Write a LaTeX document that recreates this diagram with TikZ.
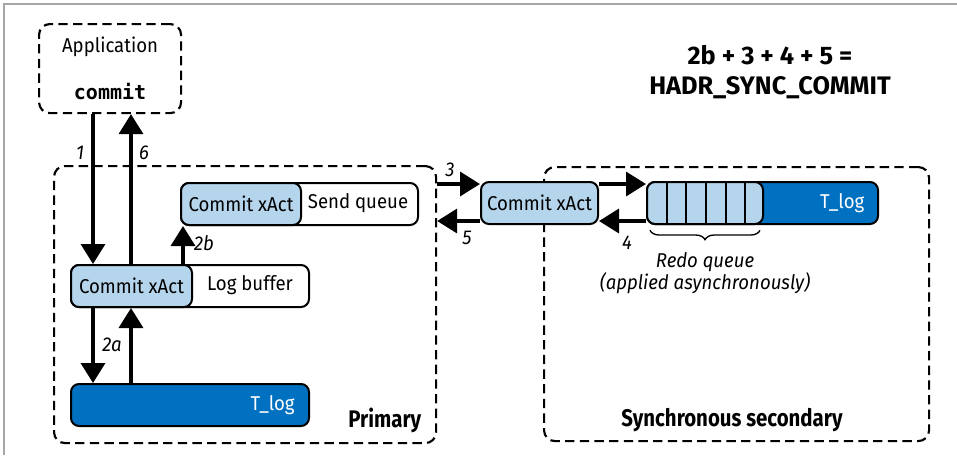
\documentclass[tikz,border=0pt]{standalone}
\usepackage{fontspec}
\setmainfont{Fira Sans}[FakeStretch=0.93]
\setmonofont{DejaVu Sans Mono}
\newfontfamily\headfont{Fira Sans}[FakeStretch=0.85]
\newfontfamily\titlefont{Fira Sans}
\usetikzlibrary{arrows.meta,decorations.pathreplacing,positioning}
\definecolor{xactblue}{RGB}{180,213,235}
\definecolor{logblue}{RGB}{0,112,192}

\begin{document}
\begin{tikzpicture}[
        x=0.75pt, y=-0.75pt,
        every node/.style={font=\fontsize{15}{17}\selectfont},
        box/.style={draw, line width=1.5pt, rounded corners=6pt, minimum height=31.5pt, inner sep=0pt, anchor=north west},
        xact/.style={box, fill=xactblue},
        tlog/.style={box, fill=logblue},
        zone/.style={draw, line width=1.6pt, dash pattern=on 7pt off 4pt, rounded corners=8pt, anchor=north west},
        flow/.style={line width=2.6pt, -{Triangle[length=15pt,width=18pt]}},
        num/.style={font=\fontsize{15}{15}\selectfont\itshape},
        head/.style={font=\headfont\bfseries\fontsize{18}{22.5}\selectfont},
    ]
    \useasboundingbox (0,0) rectangle (957,455);
    \draw[gray!70, line width=1pt] (4,455) -- (4,4) -- (957,4);

    % dashed zones
    \node[zone, minimum width=106.5pt, minimum height=66.75pt, align=center] (app) at (38,23)
        {Application\\[18pt]{\ttfamily\bfseries commit}};
    \node[zone, minimum width=286.5pt, minimum height=207.75pt] (prim) at (53,165) {};
    \node[zone, minimum width=288.75pt, minimum height=205.5pt] (sec) at (543,166) {};

    % primary
    \node[box, minimum width=177.75pt] (sendq) at (180,182) {};
    \node[xact, minimum width=90pt] (sendx) at (180,182) {Commit xAct};
    \node (sendtxt) at (358,203) {Send queue};

    \node[box, minimum width=178.5pt] (logbuf) at (70,264) {};
    \node[xact, minimum width=90.75pt] (logx) at (70,264) {Commit xAct};
    \node (logtxt) at (250,285) {Log buffer};

    \node[tlog, minimum width=178.5pt] (tlogp) at (70,383) {};
    \node[text=white, anchor=east] (tlogptxt) at ([xshift=-8pt]tlogp.east) {T\_log};

    % secondary
    \node[xact, minimum width=87.75pt] (midx) at (480,181) {Commit xAct};

    \node[tlog, minimum width=173.25pt] (tlogs) at (646,181) {};
    \node[xact, minimum width=87pt] (redoq) at (646,181) {};
    \foreach \x in {667,686,706,726,745}
        \draw[line width=1.5pt] ({\x},181) -- ({\x},223);
    \node[text=white, anchor=east] (tlogstxt) at ([xshift=-7.5pt]tlogs.east) {T\_log};

    \draw[line width=1pt, decorate, decoration={brace, mirror, amplitude=7pt}]
        ([xshift=3pt,yshift=-4pt]redoq.south west) -- ([xshift=-3pt,yshift=-4pt]redoq.south east);
    \node[num, align=center] (redotxt) at (705,273) {Redo queue\\(applied asynchronously)};

    % arrows
    \coordinate (colA) at (93,0);
    \coordinate (colB) at (131,0);
    \coordinate (colC) at (183,0);
    \coordinate (rowA) at (0,184);
    \coordinate (rowB) at (0,221);

    \draw[flow] (app.south -| colA) -- (logx.north -| colA);
    \draw[flow] (logx.north -| colB) -- (app.south -| colB);
    \draw[flow] (logx.south -| colA) -- (tlogp.north -| colA);
    \draw[flow] (tlogp.north -| colB) -- (logx.south -| colB);
    \draw[flow] (logbuf.north -| colC) -- (sendx.south -| colC);
    \draw[flow] (prim.east |- rowA) -- (midx.west |- rowA);
    \draw[flow] (midx.west |- rowB) -- (prim.east |- rowB);
    \draw[flow] (midx.east |- rowA) -- (tlogs.west |- rowA);
    \draw[flow] (tlogs.west |- rowB) -- (midx.east |- rowB);

    \node[num] (l1) at (80,153) {1};
    \node[num] (l6) at (144,153) {6};
    \node[num] (l2b) at (204,243) {2b};
    \node[num] (l2a) at (112,345) {2a};
    \node[num] (l3) at (450,170) {3};
    \node[num] (l5) at (467,238) {5};
    \node[num] (l4) at (627,243) {4};

    % captions
    \node[head, anchor=east] (primtxt) at (426,420) {Primary};
    \node[head] (sectxt) at (732,420) {Synchronous secondary};
    \node[head, font=\titlefont\bfseries\fontsize{19}{22.5}\selectfont, align=center] (title) at (770,72)
        {2b + 3 + 4 + 5 =\\HADR\_SYNC\_COMMIT};
\end{tikzpicture}
\end{document}
